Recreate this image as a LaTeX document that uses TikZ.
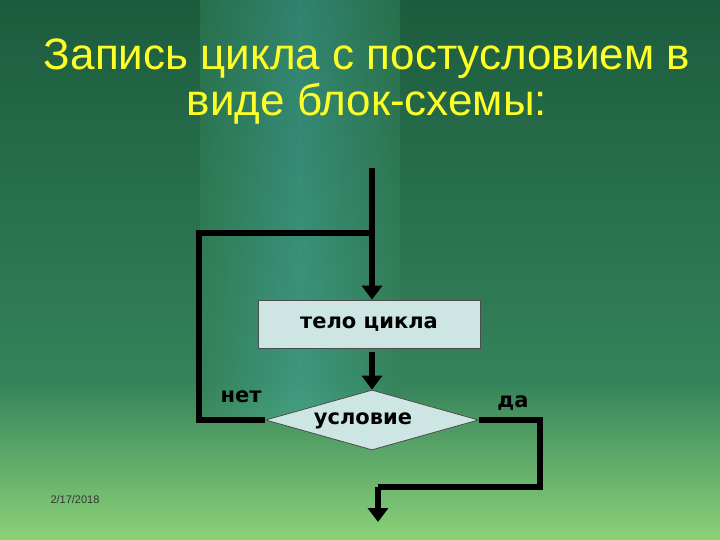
\documentclass[tikz,border=0pt]{standalone}
\usepackage{fontspec}
\setmainfont{Liberation Sans}
\newfontfamily\lblfont{DejaVu Sans}
\usetikzlibrary{shapes.geometric,arrows.meta}
\definecolor{bgtop}{RGB}{28,92,62}
\definecolor{bgmid}{RGB}{52,130,90}
\definecolor{bgbot}{RGB}{140,210,120}
\definecolor{teal1}{RGB}{70,170,160}
\definecolor{boxfill}{RGB}{205,230,228}
\definecolor{titlecol}{RGB}{255,255,40}
\tikzset{
  line/.style={line width=5.5pt, black},
  tip/.style={-{Triangle[length=14pt,width=20pt]}},
  lbl/.style={font=\lblfont\bfseries\fontsize{21}{24}\selectfont, inner sep=0pt},
}
\begin{document}
\begin{tikzpicture}[x=1pt,y=-1pt]
\useasboundingbox (0,0) rectangle (720,540);
\shade[top color=bgtop, bottom color=bgmid] (0,0) rectangle (720,380);
\shade[top color=bgmid, bottom color=bgbot] (0,380) rectangle (720,540);
\shade[left color=bgmid, right color=teal1, opacity=0.5] (200,0) rectangle (300,420);
\shade[left color=teal1, right color=bgmid, opacity=0.5] (300,0) rectangle (400,420);
\node[text=titlecol, font=\fontsize{44}{46}\selectfont, align=center] (title) at (367,82) {Запись цикла с постусловием в\\виде блок-схемы:};
\node[font=\fontsize{11}{12}\selectfont, text=black!80] (date) at (75,500) {2/17/2018};
\node[draw=black!70, fill=boxfill, minimum width=222pt, minimum height=48pt, line width=0.8pt, lbl] (body) at (369,324) {тело цикла};
\node[diamond, draw=black!70, fill=boxfill, minimum width=213pt, minimum height=60pt, aspect=3.55, inner sep=0pt, line width=0.8pt, lbl] (cond) at (372,420) {};
\node[lbl] (condt) at (363,421) {условие};
\node[lbl] (no) at (241,397) {нет};
\node[lbl] (yes) at (513,403) {да};
\coordinate (top) at (372,168);
\coordinate (split) at (372,233);
\coordinate (lc) at (199,233);
\coordinate (rc) at (540,420);
\coordinate (bc) at (378,487);
\coordinate (endp) at (378,522);
\draw[line, tip] (top) -- (top |- body.north);
\draw[line] (cond.west) -- (199,420) -- (lc) -- (split);
\draw[line, tip] (cond.north |- body.south) ++(0,4) -- (cond.north);
\draw[line] (cond.east) -- (rc) -- (540,487) -- (bc);
\draw[line, tip] (bc) -- (endp);
\end{tikzpicture}
\end{document}
